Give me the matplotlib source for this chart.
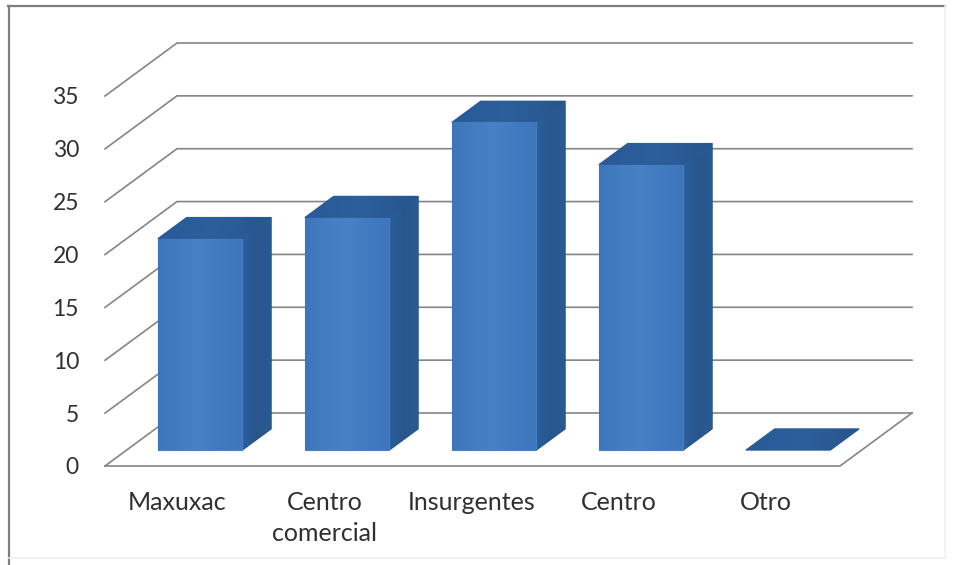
import numpy as np
import matplotlib
matplotlib.use('Agg')
import matplotlib.pyplot as plt
from matplotlib.colors import LinearSegmentedColormap
from matplotlib.patches import Polygon

# Datos de la grafica
categorias = ['Maxuxac', 'Centro\ncomercial', 'Insurgentes', 'Centro', 'Otro']
valores = [20, 22, 31, 27, 0]
ticks_y = [0, 5, 10, 15, 20, 25, 30, 35]

# Proyeccion oblicua, en pixeles de la imagen
x0, y0 = 105, 466
paso = 147
escala = 370 / 35
fondo_x, fondo_y = 72, 53
ancho_barra = 0.575
prof_ini, prof_fin = 0.30, 0.70


def px(cat, prof=0.0):
    return x0 + cat * paso + prof * fondo_x


def py(val, prof=0.0):
    return y0 - val * escala - prof * fondo_y


plt.rcParams['font.family'] = ['Lato', 'DejaVu Sans']

fig = plt.figure(figsize=(9.59, 5.65), dpi=100)
ax = fig.add_axes([0, 0, 1, 1])
ax.set_xlim(0, 959)
ax.set_ylim(565, 0)
ax.axis('off')

cmap_frente = LinearSegmentedColormap.from_list('f', ['#3d75b9', '#437ec1', '#4682c4', '#417ac0', '#3d76bb'])
cmap_lado = LinearSegmentedColormap.from_list('l', ['#2b5f9c', '#28568c', '#295a92'])
cmap_tope = LinearSegmentedColormap.from_list('t', ['#2a5a98', '#2c5f9c', '#27558c'])


def cara(puntos, cmap, zorder=3):
    # poligono base del color medio y encima el degradado horizontal
    medio = cmap(0.5)
    poli = Polygon(puntos, closed=True, facecolor=medio, edgecolor=medio, lw=0.8, zorder=zorder)
    ax.add_patch(poli)
    xs = [p[0] for p in puntos]
    ys = [p[1] for p in puntos]
    im = ax.imshow(np.linspace(0, 1, 64).reshape(1, -1), cmap=cmap, aspect='auto',
                   extent=(min(xs), max(xs), max(ys), min(ys)), zorder=zorder)
    im.set_clip_path(poli)


# Marco
ax.plot([9, 9], [565, 6], color='#7d7d7d', lw=1.6, zorder=1)
ax.plot([8, 945], [6, 6], color='#7d7d7d', lw=1.6, zorder=1)
ax.plot([945, 945], [6, 558], color='#f0f0f0', lw=1.2, zorder=1)
ax.plot([9, 945], [558, 558], color='#f0f0f0', lw=1.2, zorder=1)

# Rejilla: pared lateral y pared del fondo
n = len(categorias)
for t in ticks_y:
    ax.plot([px(0), px(0, 1), px(n, 1)], [py(t), py(t, 1), py(t, 1)],
            color='#858585', lw=1.2, zorder=2, solid_joinstyle='miter')
    ax.text(79, py(t) + 2, str(t), ha='right', va='center', fontsize=16.5, color='#303030')

# Piso
ax.plot([px(0), px(n), px(n, 1)], [py(0), py(0), py(0, 1)], color='#858585', lw=1.2, zorder=2)

# Barras
for i, (nombre, v) in enumerate(zip(categorias, valores)):
    izq = i + (1 - ancho_barra) / 2
    der = izq + ancho_barra
    if v > 0:
        cara([(px(izq, prof_ini), py(0, prof_ini)), (px(der, prof_ini), py(0, prof_ini)),
              (px(der, prof_ini), py(v, prof_ini)), (px(izq, prof_ini), py(v, prof_ini))], cmap_frente, 4)
        cara([(px(der, prof_ini), py(0, prof_ini)), (px(der, prof_fin), py(0, prof_fin)),
              (px(der, prof_fin), py(v, prof_fin)), (px(der, prof_ini), py(v, prof_ini))], cmap_lado, 3)
    cara([(px(izq, prof_ini), py(v, prof_ini)), (px(der, prof_ini), py(v, prof_ini)),
          (px(der, prof_fin), py(v, prof_fin)), (px(izq, prof_fin), py(v, prof_fin))], cmap_tope, 3)
    ax.text(px(i + 0.5) - 1, 491, nombre, ha='center', va='top', fontsize=18,
            color='#303030', linespacing=1.42)

ax.set_xlim(0, 959)
ax.set_ylim(565, 0)
fig.savefig('out.png', dpi=100)
